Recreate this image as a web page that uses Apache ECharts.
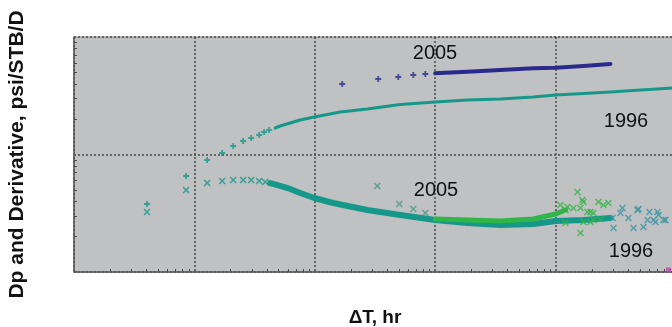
<!DOCTYPE html>
<html>
<head>
<meta charset="utf-8">
<script src="https://cdn.jsdelivr.net/npm/echarts@6/dist/echarts.min.js"></script>
<style>
  html, body { margin: 0; padding: 0; background: #fff; overflow: hidden; }
  #chart { width: 676px; height: 327px; }
</style>
</head>
<body>
<div id="chart"></div>
<script>
// ── Data: [ΔT hr, psi/STB/D] ─────────────────────────────────────────────────

// 1996 test, pressure change: sparse early points then the dense trend
const dp1996Early = [
  [0.00404, 3.79], [0.00853, 6.56], [0.01276, 8.98], [0.0170, 10.30], [0.02098, 11.81],
  [0.0254, 13.03], [0.02961, 13.82], [0.03451, 14.66], [0.03797, 15.54], [0.04177, 16.16]
]
const dp1996 = [
  [0.04687, 16.81], [0.05157, 17.48], [0.06245, 18.54], [0.07561, 19.67], [0.09886, 20.85],
  [0.1626, 23.0], [0.2726, 24.39], [0.5128, 26.64], [1.0, 27.98], [1.849, 29.09],
  [3.477, 29.67], [6.54, 30.86], [10.0, 32.09], [17.02, 33.05], [28.54, 34.03],
  [50.7, 35.39], [93.5, 36.81]
]

// 2005 test, pressure change
const dp2005Early = [
  [0.1689, 39.81], [0.3365, 43.92], [0.4935, 45.66], [0.6577, 47.50], [0.8275, 48.43]
]
const dp2005 = [
  [1.0, 49.1], [1.213, 49.69], [1.849, 50.68], [3.477, 52.38], [6.54, 54.15],
  [10.0, 54.79], [17.02, 56.65], [28.54, 58.93]
]

// 1996 test, derivative
const der1996Early = [
  [0.00404, 3.24], [0.00853, 4.99], [0.01276, 5.72], [0.0170, 5.95], [0.02098, 6.07],
  [0.0254, 6.07], [0.02961, 6.07], [0.03451, 5.95], [0.03871, 5.83]
]
const der1996 = [
  [0.04258, 5.72], [0.05157, 5.395], [0.06245, 5.087], [0.07561, 4.703], [0.09886, 4.264],
  [0.1422, 3.866], [0.2726, 3.371], [0.5128, 3.056], [1.0, 2.771], [1.849, 2.612],
  [3.477, 2.512], [6.54, 2.562], [10.0, 2.718], [17.02, 2.771], [28.54, 2.881]
]
const der1996Late = [
  [30.24, 2.369], [35.93, 3.505], [40.30, 2.881], [48.79, 3.437], [44.35, 2.369],
  [53.68, 2.415], [60.22, 3.24], [57.96, 2.771], [70.2, 3.24], [65.0, 2.771],
  [81.8, 2.771], [34.56, 3.178], [47.86, 3.371], [71.5, 3.056], [78.7, 2.771],
  [67.53, 2.665], [29.67, 2.881]
]

// 2005 test, derivative
const der2005Early = [
  [0.3302, 5.395], [0.503, 3.79], [0.6577, 3.437], [0.8275, 3.178]
]
const der2005 = [
  [1.0, 2.826], [1.849, 2.771], [3.477, 2.718], [6.54, 2.826], [10.0, 3.116], [12.06, 3.371]
]
const der2005Late = [
  [15.18, 4.796], [16.70, 4.101], [16.08, 3.505], [10.96, 3.718], [12.06, 3.371],
  [12.06, 2.612], [16.08, 2.147], [19.47, 3.24], [20.62, 3.178], [22.69, 3.942],
  [24.96, 3.718], [27.47, 3.866], [17.02, 2.665], [19.47, 2.665], [20.62, 2.771],
  [14.06, 3.505], [18.38, 3.24], [23.57, 2.826], [12.53, 3.574], [17.02, 3.942]
]

const cornerPoint = [[86.7, 1.04]]

// minor log ticks (2..9 in every decade)
const xDecades = [0.001, 0.01, 0.1, 1, 10]
const yDecades = [1, 10]
const minorSteps = [2, 3, 4, 5, 6, 7, 8, 9]

// ── Styles ───────────────────────────────────────────────────────────────────

const TEAL = '#15978a'
const NAVY = '#2a2a8c'
const GREEN = '#2fb548'
const GRAY_TEAL = '#4f9682'
const PLUS = 'path://M3.5,0H6.5V3.5H10V6.5H6.5V10H3.5V6.5H0V3.5H3.5Z'
const CROSS = 'path://M1.5,0L5,3.5L8.5,0L10,1.5L6.5,5L10,8.5L8.5,10L5,6.5L1.5,10L0,8.5L3.5,5L0,1.5Z'

function minorTicks(decades) {
  const out = []
  decades.forEach(d => minorSteps.forEach(m => out.push(+(d * m).toPrecision(3))))
  return out
}

function markers(data, symbol, size, color) {
  return { type: 'scatter', data, symbol, symbolSize: size, itemStyle: { color }, z: 3 }
}

function band(data, width, color) {
  return {
    type: 'line', data, showSymbol: false, symbol: 'none',
    lineStyle: { width, color, cap: 'round', join: 'round' }, z: 2,
  }
}

const gridLine = { show: true, lineStyle: { color: '#4a4a4a', width: 1.5, type: [2, 2] } }
const axisLine = { lineStyle: { color: '#5a5a5a', width: 1.5 } }
const tickStyle = { color: '#4a4a4a', width: 1 }

function labelText(text, x, y) {
  return {
    type: 'text', x, y, z: 10,
    style: { text, fill: '#111', font: '20px "Liberation Sans", Arial', align: 'center', verticalAlign: 'middle' },
  }
}

// ── Chart ────────────────────────────────────────────────────────────────────

const chart = echarts.init(document.getElementById('chart'), null, { renderer: 'canvas' })

chart.setOption({
  animation: false,
  grid: {
    left: 74, right: 0, top: 37, bottom: 55, outerBoundsMode: 'none',
    show: true, backgroundColor: '#bfc1c2', borderColor: '#8a8a8a', borderWidth: 1,
  },
  xAxis: [
    {
      type: 'log', logBase: 10, min: 0.001, max: 100, position: 'bottom',
      name: 'ΔT, hr', nameLocation: 'middle', nameGap: 36,
      nameTextStyle: { fontSize: 19, fontWeight: 'bold', color: '#111', fontFamily: 'Liberation Sans' },
      axisLine, axisTick: { show: false }, axisLabel: { show: false },
      splitLine: gridLine,
    },
    {
      // minor tick marks only
      type: 'log', logBase: 10, min: 0.001, max: 100, position: 'bottom', offset: 0,
      axisLine: { show: false },
      axisTick: { show: true, inside: true, length: 3, customValues: minorTicks(xDecades), lineStyle: tickStyle },
      axisLabel: { show: false }, splitLine: { show: false },
    },
  ],
  yAxis: [
    {
      type: 'log', logBase: 10, min: 1, max: 100, position: 'left',
      name: 'Dp and Derivative, psi/STB/D', nameLocation: 'middle', nameGap: 46,
      nameTextStyle: { fontSize: 21, fontWeight: 'bold', color: '#111', fontFamily: 'Liberation Sans' },
      axisLine, axisTick: { show: false }, axisLabel: { show: false },
      splitLine: gridLine,
    },
    {
      type: 'log', logBase: 10, min: 1, max: 100, position: 'left', offset: 0,
      axisLine: { show: false },
      axisTick: { show: true, inside: true, length: 3, customValues: minorTicks(yDecades), lineStyle: tickStyle },
      axisLabel: { show: false }, splitLine: { show: false },
    },
  ],
  series: [
    band(dp1996, 3, TEAL),
    markers(dp1996Early, PLUS, 6, TEAL),
    band(der1996, 6, TEAL),
    markers(der1996Early, CROSS, 7, TEAL),
    markers(der1996Late, CROSS, 7, '#3a94a0'),
    band(dp2005, 4, NAVY),
    markers(dp2005Early, PLUS, 6, NAVY),
    band(der2005, 5, GREEN),
    markers(der2005Early, CROSS, 7, GRAY_TEAL),
    markers(der2005Late, CROSS, 7, '#34b446'),
    markers(cornerPoint, 'rect', 5, '#b04aa8'),
  ],
  graphic: [
    labelText('2005', 435, 53),
    labelText('1996', 626, 121),
    labelText('2005', 436, 190),
    labelText('1996', 631, 251),
  ],
})
</script>
</body>
</html>
